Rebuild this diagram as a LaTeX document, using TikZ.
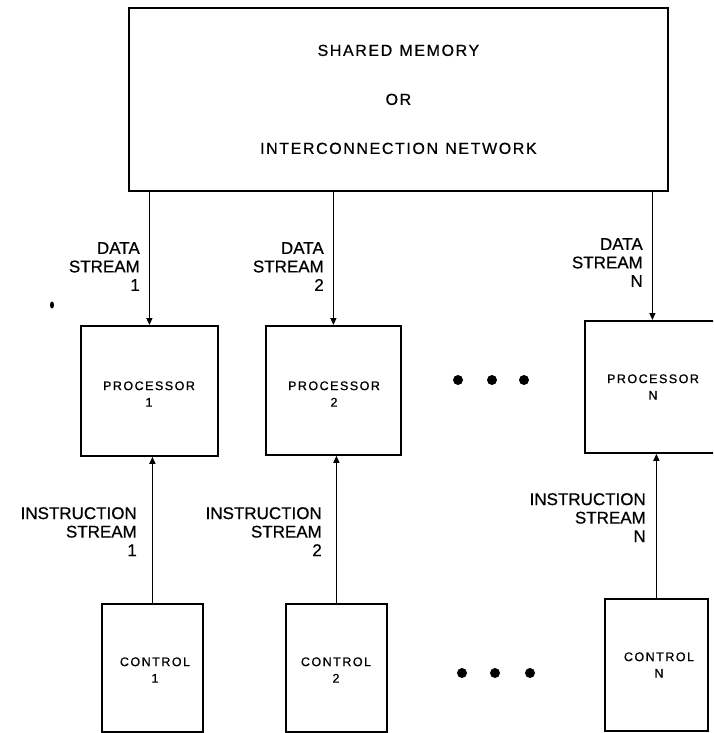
\documentclass[tikz,border=0pt]{standalone}
\usepackage{fontspec}
\setmainfont[FakeBold=0.6]{Liberation Sans}
\newfontfamily\boxfont[LetterSpace=12,FakeBold=0.8]{Liberation Sans}
\newfontfamily\memfont[LetterSpace=10,FakeBold=0.6]{Liberation Sans}
\usetikzlibrary{arrows.meta,shapes.geometric}
\begin{document}
\begin{tikzpicture}[x=1pt,y=-1pt,
  box/.style={draw, line width=1.8pt, inner sep=0pt, anchor=north west, align=center},
  memtext/.style={font=\memfont\fontsize{16}{49}\selectfont},
  ptext/.style={inner sep=0pt, align=center, font=\boxfont\fontsize{12.5}{16.5}\selectfont},
  lab/.style={anchor=north east, inner sep=0pt, align=right, font=\fontsize{17}{18.5}\selectfont},
  flow/.style={line width=1.3pt, -{Triangle[length=7pt,width=6pt]}},
  bigdot/.style={fill, circle, inner sep=0pt, minimum size=10pt}]
\useasboundingbox (0,0) rectangle (713,733);
\clip (0,0) rectangle (713,733);

% shared memory
\node[box, memtext, minimum width=539pt, minimum height=183pt] (mem) at (128,7)
  {SHARED\hspace{0.45em}MEMORY\\OR\\INTERCONNECTION\hspace{0.45em}NETWORK};

% processors
\node[box, minimum width=137pt, minimum height=130pt] (p1) at (80,325) {};
\node[box, minimum width=135pt, minimum height=129pt] (p2) at (265,325) {};
\node[box, minimum width=135pt, minimum height=132pt] (pn) at (584,320) {};
\node[ptext] (p1t) at (149,394) {PROCESSOR\\1};
\node[ptext] (p2t) at (334,394) {PROCESSOR\\2};
\node[ptext] (pnt) at (653,387) {PROCESSOR\\N};

% controls
\node[box, minimum width=101pt, minimum height=128pt] (c1) at (101,603) {};
\node[box, minimum width=101pt, minimum height=128pt] (c2) at (285,603) {};
\node[box, minimum width=103pt, minimum height=132pt] (cn) at (604,598) {};
\node[ptext] (c1t) at (155,670) {CONTROL\\1};
\node[ptext] (c2t) at (336,670) {CONTROL\\2};
\node[ptext] (cnt) at (659,665) {CONTROL\\N};

% data streams
\draw[flow] (mem.south -| p1.north) -- (p1.north);
\draw[flow] (mem.south -| p2.north) -- (p2.north);
\draw[flow] (mem.south -| pn.north) -- (pn.north);
\node[lab] (d1) at (140,242) {DATA\\STREAM\\1};
\node[lab] (d2) at (324,242) {DATA\\STREAM\\2};
\node[lab] (dn) at (643,238) {DATA\\STREAM\\N};

% instruction streams
\draw[flow] (c1.north) -- (c1.north |- p1.south);
\draw[flow] (c2.north) -- (c2.north |- p2.south);
\draw[flow] (cn.north) -- (cn.north |- pn.south);
\node[lab] (i1) at (137,507) {INSTRUCTION\\STREAM\\1};
\node[lab] (i2) at (322,507) {INSTRUCTION\\STREAM\\2};
\node[lab] (in) at (646,493) {INSTRUCTION\\STREAM\\N};

% ellipsis dots
\node[bigdot] (e1) at (458,380) {};
\node[bigdot] (e2) at (492,380) {};
\node[bigdot] (e3) at (524,380) {};
\node[bigdot] (f1) at (462,673) {};
\node[bigdot] (f2) at (495,673) {};
\node[bigdot] (f3) at (530,673) {};

% small stray mark
\node[fill, ellipse, inner sep=0pt, minimum width=4pt, minimum height=7pt] (speck) at (52,305) {};
\end{tikzpicture}
\end{document}
